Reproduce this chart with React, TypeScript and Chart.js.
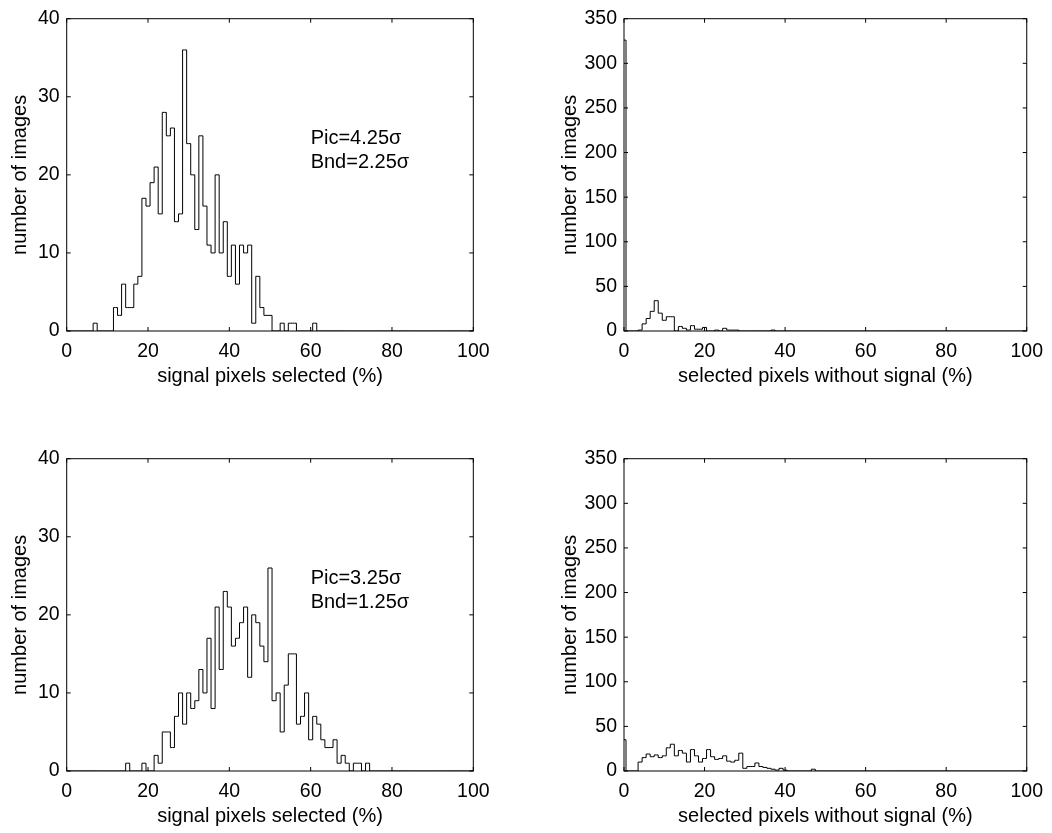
import React, { useEffect, useRef } from "react";
import { Chart, registerables } from "chart.js";

Chart.register(...registerables);

const FONT = "'Liberation Sans', Arial, Helvetica, sans-serif";

// bin centres (percent), bins of width 1
const binCenters: number[] = Array.from({ length: 101 }, (_, i) => i);

// Panel 1: Pic=4.25σ / Bnd=2.25σ, signal pixels selected
const sel1Counts = [
  0, 0, 0, 0, 0, 0, 0, 1, 0, 0,
  0, 0, 3, 2, 6, 3, 3, 6, 7, 17,
  16, 19, 21, 15, 28, 25, 26, 14, 15, 36,
  24, 20, 13, 25, 16, 11, 10, 20, 10, 14,
  7, 11, 6, 11, 10, 11, 1, 7, 3, 2,
  2, 0, 0, 1, 0, 1, 1, 0, 0, 0,
  0, 1, 0, 0, 0, 0, 0, 0, 0, 0,
  0, 0, 0, 0, 0, 0, 0, 0, 0, 0,
  0, 0, 0, 0, 0, 0, 0, 0, 0, 0,
  0, 0, 0, 0, 0, 0, 0, 0, 0, 0,
  0,
];

// Panel 2: selected pixels without signal (Pic=4.25σ)
const noise1Counts = [
  326, 0, 0, 0, 1, 8, 14, 22, 34, 20,
  12, 16, 16, 0, 5, 3, 1, 6, 2, 2,
  4, 0, 0, 1, 0, 3, 1, 1, 1, 0,
  0, 0, 0, 0, 0, 0, 0, 1, 0, 0,
  0, 0, 0, 0, 0, 0, 0, 0, 0, 0,
  0, 0, 0, 0, 0, 0, 0, 0, 0, 0,
  0, 0, 0, 0, 0, 0, 0, 0, 0, 0,
  0, 0, 0, 0, 0, 0, 0, 0, 0, 0,
  0, 0, 0, 0, 0, 0, 0, 0, 0, 0,
  0, 0, 0, 0, 0, 0, 0, 0, 0, 0,
  0,
];

// Panel 3: Pic=3.25σ / Bnd=1.25σ, signal pixels selected
const sel2Counts = [
  0, 0, 0, 0, 0, 0, 0, 0, 0, 0,
  0, 0, 0, 0, 0, 1, 0, 0, 0, 1,
  0, 0, 2, 1, 5, 5, 3, 7, 10, 6,
  10, 8, 9, 13, 10, 17, 8, 21, 13, 23,
  21, 16, 17, 19, 21, 12, 20, 19, 16, 14,
  26, 9, 10, 5, 11, 15, 15, 6, 7, 10,
  4, 7, 6, 4, 3, 3, 4, 1, 2, 1,
  0, 1, 1, 0, 1, 0, 0, 0, 0, 0,
  0, 0, 0, 0, 0, 0, 0, 0, 0, 0,
  0, 0, 0, 0, 0, 0, 0, 0, 0, 0,
  0,
];

// Panel 4: selected pixels without signal (Pic=3.25σ)
const noise2Counts = [
  35, 0, 0, 0, 10, 15, 19, 16, 18, 15,
  17, 26, 30, 17, 23, 20, 10, 24, 17, 10,
  14, 24, 16, 13, 14, 17, 11, 10, 12, 20,
  3, 5, 5, 9, 5, 4, 3, 2, 1, 3,
  1, 0, 0, 0, 0, 0, 0, 2, 0, 0,
  0, 0, 0, 0, 0, 0, 0, 0, 0, 0,
  0, 0, 0, 0, 0, 0, 0, 0, 0, 0,
  0, 0, 0, 0, 0, 0, 0, 0, 0, 0,
  0, 0, 0, 0, 0, 0, 0, 0, 0, 0,
  0, 0, 0, 0, 0, 0, 0, 0, 0, 0,
  0,
];

const note1 = ["Pic=4.25σ", "Bnd=2.25σ"];
const note2 = ["Pic=3.25σ", "Bnd=1.25σ"];
const noteX = 60;
const noteY = 24;

const xTitleSel = "signal pixels selected (%)";
const xTitleNoise = "selected pixels without signal (%)";
const yTitle = "number of images";

function makeFrame(note: string[] | null) {
  return {
    id: "frame",
    afterDraw(chart: any) {
      const { ctx, chartArea } = chart;
      const { left, top, right, bottom } = chartArea;
      const xs = chart.scales.x;
      const ys = chart.scales.y;
      ctx.save();
      ctx.strokeStyle = "#000";
      ctx.lineWidth = 1;
      ctx.strokeRect(left, top, right - left, bottom - top);
      const L = 4;
      ctx.beginPath();
      for (const t of xs.ticks) {
        const p = xs.getPixelForValue(t.value);
        ctx.moveTo(p, bottom);
        ctx.lineTo(p, bottom - L);
        ctx.moveTo(p, top);
        ctx.lineTo(p, top + L);
      }
      for (const t of ys.ticks) {
        const p = ys.getPixelForValue(t.value);
        ctx.moveTo(left, p);
        ctx.lineTo(left + L, p);
        ctx.moveTo(right, p);
        ctx.lineTo(right - L, p);
      }
      ctx.stroke();
      if (note) {
        ctx.fillStyle = "#000";
        ctx.font = `20px ${FONT}`;
        ctx.textAlign = "left";
        ctx.textBaseline = "alphabetic";
        const x0 = xs.getPixelForValue(noteX);
        const y0 = ys.getPixelForValue(noteY);
        note.forEach((s, i) => ctx.fillText(s, x0, y0 + i * 24));
      }
      ctx.restore();
    },
  };
}

type PanelProps = {
  left: number;
  top: number;
  counts: number[];
  yMax: number;
  yStep: number;
  xTitle: string;
  note: string[] | null;
  padL: number;
  padR: number;
  yTitlePad: number;
};

function Panel({ left, top, counts, yMax, yStep, xTitle, note, padL, padR, yTitlePad }: PanelProps) {
  const ref = useRef<HTMLCanvasElement>(null);
  useEffect(() => {
    const chart = new Chart(ref.current as HTMLCanvasElement, {
      type: "line",
      data: {
        datasets: [
          {
            data: binCenters.map((x, i) => ({ x, y: counts[i] })),
            stepped: "middle",
            borderColor: "#000",
            borderWidth: 1,
            pointRadius: 0,
            fill: false,
          } as any,
        ],
      },
      options: {
        animation: false,
        responsive: false,
        devicePixelRatio: 1,
        events: [],
        layout: {
          autoPadding: false,
          padding: { left: padL, right: padR, top: 10, bottom: 2 },
        },
        plugins: { legend: { display: false }, tooltip: { enabled: false } },
        scales: {
          x: {
            type: "linear",
            min: 0,
            max: 100,
            grid: { display: false, drawTicks: false },
            border: { display: false },
            ticks: {
              stepSize: 20,
              color: "#000",
              font: { family: FONT, size: 19.5 },
              padding: 9,
              maxRotation: 0,
              autoSkip: false,
            },
            title: {
              display: true,
              text: xTitle,
              color: "#000",
              font: { family: FONT, size: 20 },
              padding: { top: 0, bottom: 3 },
            },
            afterFit: (s: any) => {
              s.height = 60;
            },
          },
          y: {
            type: "linear",
            min: 0,
            max: yMax,
            grid: { display: false, drawTicks: false },
            border: { display: false },
            ticks: {
              stepSize: yStep,
              color: "#000",
              font: { family: FONT, size: 19.5 },
              padding: 7,
              autoSkip: false,
            },
            title: {
              display: true,
              text: yTitle,
              color: "#000",
              font: { family: FONT, size: 20 },
              padding: { top: yTitlePad, bottom: 0 },
            },
            afterFit: (s: any) => {
              s.width = 66.7;
            },
          },
        },
      } as any,
      plugins: [makeFrame(note)],
    });
    return () => chart.destroy();
  }, []);
  return (
    <canvas
      ref={ref}
      width={526}
      height={393}
      style={{ position: "absolute", left, top, width: 526, height: 393 }}
    />
  );
}

export default function App() {
  return (
    <div
      style={{
        position: "absolute",
        left: 0,
        top: 0,
        width: 1052,
        height: 833,
        background: "#fff",
        overflow: "hidden",
      }}
    >
      <Panel left={0} top={0} counts={sel1Counts} yMax={40} yStep={10} xTitle={xTitleSel} note={note1} padL={0} padR={52.7} yTitlePad={8} />
      <Panel left={526} top={0} counts={noise1Counts} yMax={350} yStep={50} xTitle={xTitleNoise} note={null} padL={31.3} padR={21.4} yTitlePad={1} />
      <Panel left={0} top={440} counts={sel2Counts} yMax={40} yStep={10} xTitle={xTitleSel} note={note2} padL={0} padR={52.7} yTitlePad={8} />
      <Panel left={526} top={440} counts={noise2Counts} yMax={350} yStep={50} xTitle={xTitleNoise} note={null} padL={31.3} padR={21.4} yTitlePad={1} />
    </div>
  );
}
